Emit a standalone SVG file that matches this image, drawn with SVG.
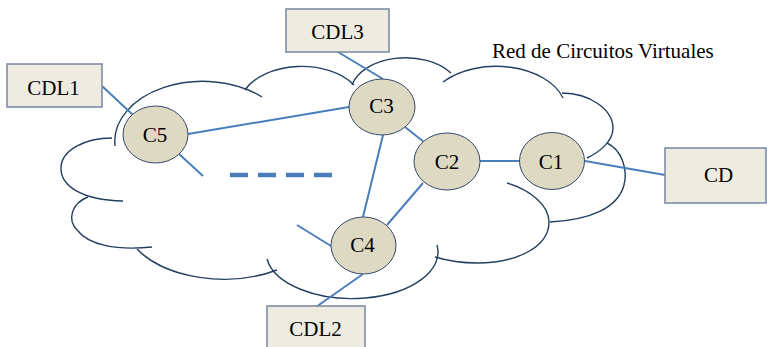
<svg xmlns="http://www.w3.org/2000/svg" width="767" height="347" viewBox="0 0 767 347">
<style>
.cloud{fill:none;stroke:#243F60;stroke-width:1.4}
.edge{fill:none;stroke:#4A7EBB;stroke-width:2}
.dash{fill:none;stroke:#4A7EBB;stroke-width:4.5;stroke-dasharray:18 10}
.node ellipse{fill:#DDD9C3;stroke:#34486A;stroke-width:1}
.box rect{fill:#EEECE1;stroke:#7F8DA6;stroke-width:1.6}
.lbl{text-anchor:middle}
</style>
<rect width="767" height="347" fill="#fff"/>
<g id="cloud" class="cloud">
<path d="M115,146 A88,60 0 0 1 262,97"/>
<path d="M245,90 A62,40 0 0 1 354,85"/>
<path d="M352,85 A55,35 0 0 1 451,73"/>
<path d="M443,82 A70,45 0 0 1 563,98"/>
<path d="M562,93 C590,93 613,110 613,128 C613,142 598,153 587,158"/>
<path d="M607,143 C622,150 628,170 624,185 C618,208 590,220 550,222"/>
<path d="M507,183 C530,190 549,205 549,222 C549,248 515,263 477,263 C460,263 445,260 435,257"/>
<path d="M267,259 A85,46 0 0 0 437,245"/>
<path d="M137,249 A100,60 0 0 0 277,270"/>
<path d="M88,197 C72,203 66,220 78,231 C88,244 115,251 152,247"/>
<path d="M112,138 C85,138 62,150 61,167 C60,185 80,200 123,201"/>
</g>
<g font-family="Liberation Serif, DejaVu Serif, serif" font-size="21" fill="#000">
<text id="title" x="492" y="58">Red de Circuitos Virtuales</text>
</g>
<g id="connectors">
<line class="edge" x1="102" y1="86" x2="133" y2="115"/>
<line class="edge" x1="188" y1="134" x2="349" y2="107"/>
<line class="edge" x1="178" y1="153" x2="203" y2="176"/>
<line class="dash" x1="230" y1="175" x2="332" y2="175"/>
<line class="edge" x1="338" y1="52" x2="383" y2="79"/>
<line class="edge" x1="405" y1="127" x2="424" y2="142"/>
<line class="edge" x1="383" y1="135" x2="363" y2="217"/>
<line class="edge" x1="423" y1="183" x2="387" y2="225"/>
<line class="edge" x1="480" y1="161" x2="520" y2="161"/>
<line class="edge" x1="585" y1="161" x2="665" y2="175"/>
<line class="edge" x1="297" y1="225" x2="331" y2="246"/>
<line class="edge" x1="363" y1="274" x2="316" y2="307"/>
</g>
<g font-family="Liberation Serif, DejaVu Serif, serif" font-size="21" fill="#000">
<g id="node-CDL1" class="box"><rect x="7" y="64" width="95" height="43"/><text class="lbl" x="53.5" y="95">CDL1</text></g>
<g id="node-CDL3" class="box"><rect x="286" y="9" width="103" height="43"/><text class="lbl" x="337.5" y="39">CDL3</text></g>
<g id="node-CD" class="box"><rect x="665" y="148" width="101" height="55"/><text class="lbl" x="718.5" y="182">CD</text></g>
<g id="node-CDL2" class="box"><rect x="267" y="306" width="98" height="50"/><text class="lbl" x="315.5" y="336">CDL2</text></g>
<g id="node-C5" class="node"><ellipse cx="155.5" cy="134.5" rx="32.5" ry="28.5"/><text class="lbl" x="155" y="142">C5</text></g>
<g id="node-C3" class="node"><ellipse cx="382" cy="107" rx="33" ry="28"/><text class="lbl" x="381.5" y="113">C3</text></g>
<g id="node-C2" class="node"><ellipse cx="447" cy="161.5" rx="33" ry="28.5"/><text class="lbl" x="447" y="169">C2</text></g>
<g id="node-C1" class="node"><ellipse cx="552" cy="161" rx="32.5" ry="28.5"/><text class="lbl" x="551" y="169">C1</text></g>
<g id="node-C4" class="node"><ellipse cx="363.5" cy="245.5" rx="32.5" ry="28.5"/><text class="lbl" x="362.5" y="252">C4</text></g>
</g>
</svg>
